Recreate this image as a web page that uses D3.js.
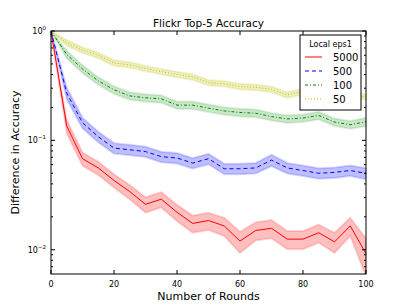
<!DOCTYPE html>
<html>
<head>
<meta charset="utf-8">
<script src="https://cdn.jsdelivr.net/npm/d3@7"></script>
<style>
  body { margin: 0; background: #fff; }
  text { font-family: "DejaVu Sans", sans-serif; }
</style>
</head>
<body>
<svg id="chart" width="407" height="305"></svg>
<script>
// rounds on x axis
var rounds = [0,5,10,15,20,25,30,35,40,45,50,55,60,65,70,75,80,85,90,95,100];

// mean difference in accuracy per local eps1 setting
var acc5000 = [1.0,0.135,0.068,0.056,0.043,0.034,0.026,0.029,0.022,0.0174,0.0185,0.0165,0.012,0.015,0.0157,0.0125,0.0125,0.0143,0.0118,0.0165,0.0092];
var acc500  = [1.0,0.27,0.145,0.108,0.085,0.082,0.079,0.071,0.069,0.062,0.068,0.055,0.055,0.056,0.066,0.056,0.053,0.050,0.051,0.053,0.050];
var acc100  = [1.0,0.61,0.45,0.35,0.29,0.255,0.245,0.24,0.21,0.21,0.197,0.186,0.18,0.177,0.165,0.157,0.16,0.169,0.147,0.139,0.148];
var acc50   = [1.0,0.78,0.67,0.60,0.51,0.49,0.455,0.425,0.40,0.38,0.337,0.33,0.31,0.306,0.293,0.26,0.28,0.27,0.26,0.26,0.25];

// relative spread of the shaded band
var spread5000 = [0,0.14,0.14,0.14,0.14,0.15,0.16,0.16,0.17,0.18,0.18,0.19,0.22,0.19,0.19,0.19,0.19,0.19,0.21,0.19,0.38];
var spread500  = [0,0.12,0.11,0.11,0.11,0.11,0.11,0.11,0.11,0.11,0.11,0.11,0.11,0.11,0.12,0.11,0.11,0.11,0.11,0.11,0.12];
var spread100  = [0,0.08,0.08,0.08,0.08,0.08,0.08,0.08,0.08,0.08,0.08,0.08,0.08,0.08,0.08,0.08,0.08,0.08,0.08,0.08,0.09];
var spread50   = [0,0.06,0.06,0.06,0.06,0.06,0.06,0.06,0.06,0.06,0.06,0.06,0.06,0.06,0.06,0.06,0.06,0.06,0.06,0.06,0.06];

var series = [
  {name: "5000", values: acc5000, spread: spread5000, color: "#ff0000", dash: null},
  {name: "500",  values: acc500,  spread: spread500,  color: "#0000ff", dash: "4,3"},
  {name: "100",  values: acc100,  spread: spread100,  color: "#008000", dash: "3,2,1,2"},
  {name: "50",   values: acc50,   spread: spread50,   color: "#bfbf00", dash: "1,2"}
];
var bandColors = {"5000": "#ff0000", "500": "#0000ff", "100": "#2ca02c", "50": "#bfbf00"};

var xTicks = [0,20,40,60,80,100];
var yMajor = [1, 0.1, 0.01];
var yMinor = [0.007,0.008,0.009,0.02,0.03,0.04,0.05,0.06,0.07,0.08,0.09,0.2,0.3,0.4,0.5,0.6,0.7,0.8,0.9];

var margin = {top: 31, right: 41, bottom: 31, left: 51};
var W = 407, H = 305;
var w = W - margin.left - margin.right;
var h = H - margin.top - margin.bottom;

var svg = d3.select('#chart');
var g = svg.append('g').attr('transform', 'translate(' + margin.left + ',' + margin.top + ')');

var x = d3.scaleLinear().domain([0,100]).range([0,w]);
var y = d3.scaleLog().domain([0.006,1]).range([h,0]);

g.append('clipPath').attr('id','clip').append('rect').attr('width',w).attr('height',h);
var plot = g.append('g').attr('clip-path','url(#clip)');

// bands
series.forEach(function(s){
  var area = d3.area()
    .x(function(d,i){ return x(rounds[i]); })
    .y0(function(d,i){ return y(d * (1 - s.spread[i])); })
    .y1(function(d,i){ return y(d * (1 + s.spread[i])); });
  plot.append('path')
    .datum(s.values)
    .attr('d', area)
    .attr('fill', bandColors[s.name])
    .attr('fill-opacity', 0.25)
    .attr('stroke', bandColors[s.name])
    .attr('stroke-opacity', 0.15)
    .attr('stroke-width', 2);
});

// mean lines
series.forEach(function(s){
  var line = d3.line()
    .x(function(d,i){ return x(rounds[i]); })
    .y(function(d){ return y(d); });
  plot.append('path')
    .datum(s.values)
    .attr('d', line)
    .attr('fill','none')
    .attr('stroke', s.color)
    .attr('stroke-width', 1)
    .attr('stroke-dasharray', s.dash);
});

// frame
g.append('rect').attr('width',w).attr('height',h)
  .attr('fill','none').attr('stroke','#000').attr('stroke-width',1);

// x ticks (inside, top and bottom)
xTicks.forEach(function(t){
  g.append('line').attr('x1',x(t)).attr('x2',x(t)).attr('y1',h).attr('y2',h-4).attr('stroke','#000');
  g.append('line').attr('x1',x(t)).attr('x2',x(t)).attr('y1',0).attr('y2',4).attr('stroke','#000');
  g.append('text').attr('x',x(t)).attr('y',h+13).attr('text-anchor','middle')
    .attr('font-size','8px').text(t);
});

// y ticks
yMajor.forEach(function(t){
  g.append('line').attr('x1',0).attr('x2',4).attr('y1',y(t)).attr('y2',y(t)).attr('stroke','#000');
  g.append('line').attr('x1',w).attr('x2',w-4).attr('y1',y(t)).attr('y2',y(t)).attr('stroke','#000');
  var lbl = g.append('text').attr('x',-5).attr('y',y(t)+3).attr('text-anchor','end').attr('font-size','8px');
  lbl.append('tspan').text('10');
  lbl.append('tspan').attr('font-size','5.5px').attr('dy','-4').text(String(Math.round(Math.log10(t))).replace('-','\u2212'));
});
yMinor.forEach(function(t){
  g.append('line').attr('x1',0).attr('x2',2).attr('y1',y(t)).attr('y2',y(t)).attr('stroke','#000');
  g.append('line').attr('x1',w).attr('x2',w-2).attr('y1',y(t)).attr('y2',y(t)).attr('stroke','#000');
});

// titles
svg.append('text').attr('x', margin.left + w/2).attr('y', 27).attr('text-anchor','middle')
  .attr('font-size','10.5px').text('Flickr Top-5 Accuracy');
svg.append('text').attr('x', margin.left + w/2).attr('y', 300).attr('text-anchor','middle')
  .attr('font-size','11px').text('Number of Rounds');
svg.append('text').attr('transform','translate(19,' + (margin.top + h/2) + ') rotate(-90)')
  .attr('text-anchor','middle').attr('font-size','11px').text('Difference in Accuracy');

// legend
var lg = svg.append('g').attr('transform','translate(300,35)');
lg.append('rect').attr('width',61).attr('height',75).attr('fill','#fff').attr('stroke','#000').attr('stroke-width',1);
lg.append('text').attr('x',30.5).attr('y',12).attr('text-anchor','middle').attr('font-size','8px').text('Local eps1');
series.forEach(function(s,i){
  var yy = 22 + i*14;
  lg.append('line').attr('x1',5).attr('x2',22).attr('y1',yy).attr('y2',yy)
    .attr('stroke', s.color).attr('stroke-width',1).attr('stroke-dasharray', s.dash);
  lg.append('text').attr('x',33).attr('y',yy+4).attr('font-size','10px').text(s.name);
});
</script>
</body>
</html>
